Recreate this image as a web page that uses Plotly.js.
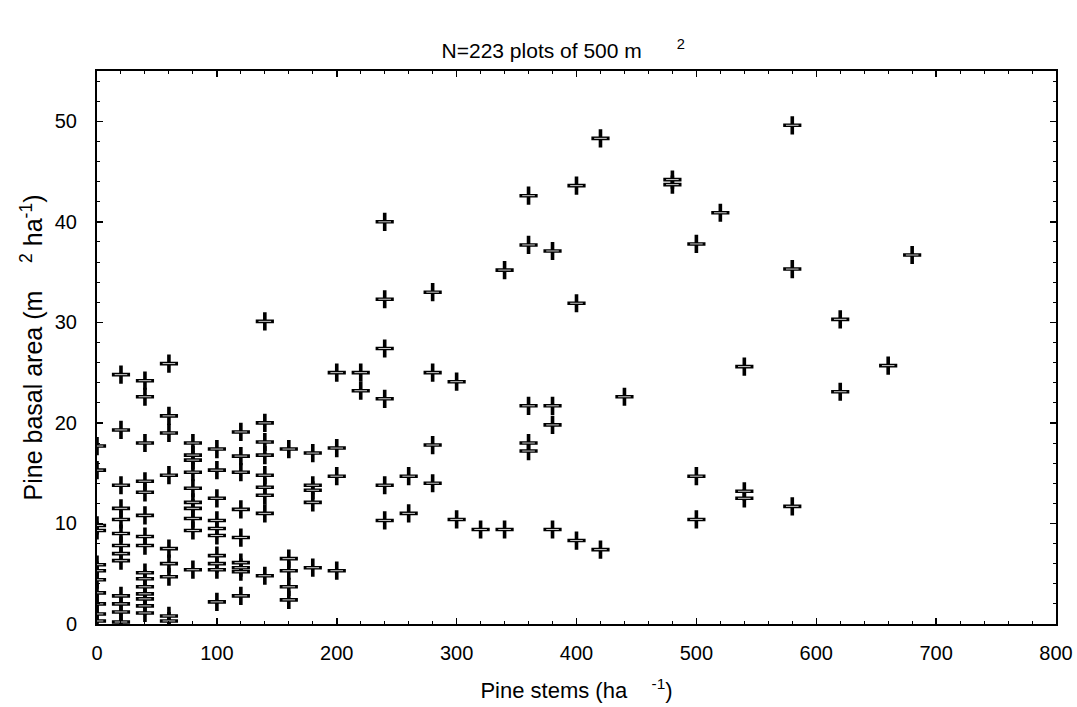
<!DOCTYPE html>
<html>
<head>
<meta charset="utf-8">
<script src="https://cdn.plot.ly/plotly-3.0.1.min.js"></script>
<style>
  html, body { margin: 0; padding: 0; background: #fff; }
  #chart { width: 1077px; height: 707px; }
</style>
</head>
<body>
<div id="chart"></div>
<script>
// Pine stems per hectare (x) and pine basal area m2/ha (y), one pair per plot
const stems = [
  0,0,0,0,0,0,0,0,0,0,0,
  20,20,20,20,20,20,20,20,20,20,20,20,20,
  40,40,40,40,40,40,40,40,40,40,40,40,40,40,40,
  60,60,60,60,60,60,60,60,60,
  80,80,80,80,80,80,80,80,80,80,
  100,100,100,100,100,100,100,100,100,100,
  120,120,120,120,120,120,120,120,120,
  140,140,140,140,140,140,140,140,140,
  160,160,160,160,160,
  180,180,180,180,180,
  200,200,200,200,
  220,220,
  240,240,240,240,240,240,
  260,260,
  280,280,280,280,
  300,300,
  320,
  340,340,
  360,360,360,360,360,
  380,380,380,380,
  400,400,400,
  420,420,
  440,
  480,480,
  500,500,500,
  520,
  540,540,540,
  580,580,580,
  620,620,
  660,
  680
];
const basalArea = [
  17.7,15.3,9.8,9.3,5.9,5.3,4.4,3.1,2.0,1.0,0.3,
  24.8,19.3,13.8,11.5,10.4,9.0,7.8,7.0,6.3,2.8,2.0,1.2,0.2,
  24.2,22.6,18.0,14.2,13.1,10.8,8.7,7.8,5.1,4.5,3.7,3.0,2.5,1.8,1.1,
  25.9,20.7,19.0,14.8,7.5,6.0,4.7,0.8,0.3,
  18.0,16.8,16.3,15.1,13.5,12.1,11.5,10.5,9.3,5.4,
  17.4,15.3,12.5,10.3,9.5,8.8,6.8,6.0,5.4,2.2,
  19.1,16.7,15.1,11.4,8.6,6.1,5.6,5.2,2.8,
  30.1,20.0,18.1,16.8,14.8,13.6,12.8,11.0,4.8,
  17.4,6.5,5.3,3.7,2.4,
  17.0,13.8,13.3,12.1,5.6,
  25.0,17.5,14.7,5.3,
  25.0,23.2,
  40.0,32.3,27.4,22.4,13.8,10.3,
  14.7,11.0,
  33.0,25.0,17.8,14.0,
  24.1,10.4,
  9.4,
  35.2,9.4,
  42.6,37.7,21.7,18.0,17.2,
  37.1,21.7,19.8,9.4,
  43.6,31.9,8.3,
  48.3,7.4,
  22.6,
  44.2,43.7,
  37.8,14.7,10.4,
  40.9,
  25.6,13.2,12.5,
  49.6,35.3,11.7,
  30.3,23.1,
  25.7,
  36.7
];
const xTickVals = [0,100,200,300,400,500,600,700,800];
const yTickVals = [0,10,20,30,40,50];
const NB = '\u00A0';
const titleText = 'N=223 plots of 500 m' + NB.repeat(6) + '<sup>2</sup>';
const xTitleText = 'Pine stems (ha' + NB.repeat(4) + '<sup>-1</sup>)' + NB.repeat(3);
const yTitleText = 'Pine basal area (m' + NB.repeat(4) + '<sup>2</sup> ha<sup>-1</sup>)' + NB.repeat(4);

const font = 'Liberation Sans, Arial, sans-serif';

const traces = [
  {
    x: stems, y: basalArea, type: 'scatter', mode: 'markers',
    marker: { symbol: 'cross-thin-open', size: 13, color: '#000',
              line: { width: 3.6, color: '#000' } },
    hoverinfo: 'x+y', showlegend: false
  },
  {
    x: stems, y: basalArea, type: 'scatter', mode: 'markers',
    marker: { symbol: 'line-ew-open', size: 9, color: '#fff',
              line: { width: 0.8, color: '#fff' } },
    hoverinfo: 'skip', showlegend: false
  }
];

const axisCommon = {
  showline: true, linecolor: '#000', linewidth: 2,
  mirror: 'allticks', ticks: 'inside', ticklen: 6, tickwidth: 1.5, tickcolor: '#000',
  showgrid: false, zeroline: false,
  tickfont: { family: font, size: 20, color: '#000' },
  minor: { ticks: 'inside', ticklen: 3, tickwidth: 1, tickcolor: '#000', showgrid: false }
};

const layout = {
  width: 1077, height: 707,
  paper_bgcolor: '#fff', plot_bgcolor: '#fff',
  margin: { l: 97, r: 21, t: 71, b: 83 },
  font: { family: font, color: '#000' },
  title: { text: titleText, font: { family: font, size: 21, color: '#000' },
           x: 0.523, xanchor: 'center', y: 0.929, yanchor: 'middle' },
  xaxis: Object.assign({}, axisCommon, {
    range: [0, 800], tickvals: xTickVals, ticktext: xTickVals.map(String),
    minor: Object.assign({}, axisCommon.minor, { dtick: 20, tick0: 0 }),
    ticklabelstandoff: 10,
    title: { text: xTitleText, font: { family: font, size: 22, color: '#000' }, standoff: 20 }
  }),
  yaxis: Object.assign({}, axisCommon, {
    range: [0, 55], tickvals: yTickVals, ticktext: yTickVals.map(String),
    minor: Object.assign({}, axisCommon.minor, { dtick: 2, tick0: 0 }),
    ticklabelstandoff: 14,
    title: { text: yTitleText, font: { family: font, size: 25, color: '#000' }, standoff: 5 }
  })
};

Plotly.newPlot('chart', traces, layout, { displayModeBar: false, staticPlot: true });
</script>
</body>
</html>
